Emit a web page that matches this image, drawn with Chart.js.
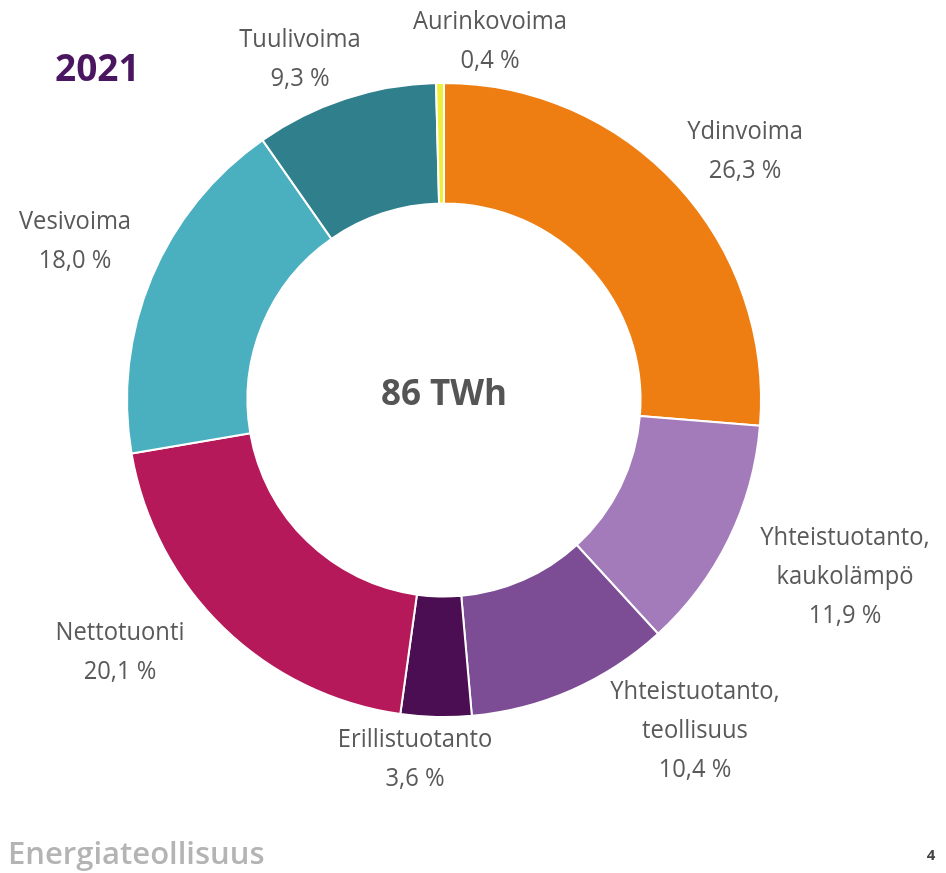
<!DOCTYPE html>
<html>
<head>
  <title>Sähkön hankinta 2021</title>
  <style>
    html, body {
      margin: 0;
      padding: 0;
      background: #fff;
    }
    .chart-wrap {
      position: relative;
      width: 946px;
      height: 873px;
    }
  </style>
</head>
<body>
  <div class="chart-wrap">
    <canvas id="energyChart" width="946" height="873"></canvas>
  </div>

  <script src="https://cdn.jsdelivr.net/npm/chart.js"></script>
  <script>
    // data, clockwise from 12 o'clock
    const categories = [
      ["Ydinvoima"],
      ["Yhteistuotanto,", "kaukolämpö"],
      ["Yhteistuotanto,", "teollisuus"],
      ["Erillistuotanto"],
      ["Nettotuonti"],
      ["Vesivoima"],
      ["Tuulivoima"],
      ["Aurinkovoima"]
    ];
    const shares = [26.3, 11.9, 10.4, 3.6, 20.1, 18.0, 9.3, 0.4];
    const sliceColors = ["#ee7e12", "#a37bba", "#7c4d95", "#4b0e52", "#b5195a", "#4aafbf", "#2f7f8d", "#eeee3c"];
    const chartTitle = "2021";
    const centerText = "86 TWh";

    // where each label block is centred (pixels)
    const labelSpots = [
      [745, 132], [845, 538], [695, 692], [415, 740],
      [120, 633], [75, 222], [300, 40], [490, 22]
    ];

    const fmt = v => v.toFixed(1).replace(".", ",") + " %";

    // slightly narrowed text, closer to the original's Calibri look
    function drawNarrow(ctx, text, x, y) {
      ctx.save();
      ctx.translate(x, y);
      ctx.scale(0.95, 1);
      ctx.fillText(text, 0, 0);
      ctx.restore();
    }

    const labelPlugin = {
      id: "sliceLabels",
      afterDraw(chart) {
        const ctx = chart.ctx;
        ctx.save();
        ctx.textAlign = "center";
        ctx.textBaseline = "middle";

        ctx.fillStyle = "#595959";
        ctx.font = "25px 'Open Sans', sans-serif";
        categories.forEach((lines, i) => {
          const [x, y] = labelSpots[i];
          lines.concat([fmt(shares[i])]).forEach((t, k) => {
            drawNarrow(ctx, t, x, y + k * 39);
          });
        });

        const arc = chart.getDatasetMeta(0).data[0];
        ctx.fillStyle = "#555555";
        ctx.font = "bold 35px 'Open Sans', sans-serif";
        ctx.fillText(centerText, arc.x, arc.y - 5);

        ctx.textAlign = "left";
        ctx.fillStyle = "#4a1660";
        ctx.font = "bold 37px 'Open Sans', sans-serif";
        ctx.fillText(chartTitle, 55, 70);

        ctx.fillStyle = "#b4b4b4";
        ctx.font = "600 31px 'Open Sans', sans-serif";
        ctx.fillText("Energiateollisuus", 8, 855);

        ctx.textAlign = "center";
        ctx.fillStyle = "#444";
        ctx.font = "bold 15px 'Open Sans', sans-serif";
        ctx.fillText("4", 931, 856);
        ctx.restore();
      }
    };

    const ctx = document.getElementById("energyChart").getContext("2d");
    const chart = new Chart(ctx, {
      type: "doughnut",
      data: {
        labels: categories.map(c => c.join(" ")),
        datasets: [{
          data: shares,
          backgroundColor: sliceColors,
          borderColor: "#ffffff",
          borderWidth: 2
        }]
      },
      options: {
        responsive: false,
        animation: false,
        cutout: "62%",
        layout: {
          padding: { left: 126, right: 184, top: 82, bottom: 155 }
        },
        plugins: {
          legend: { display: false },
          tooltip: { enabled: false }
        }
      },
      plugins: [labelPlugin]
    });
  </script>
</body>
</html>
